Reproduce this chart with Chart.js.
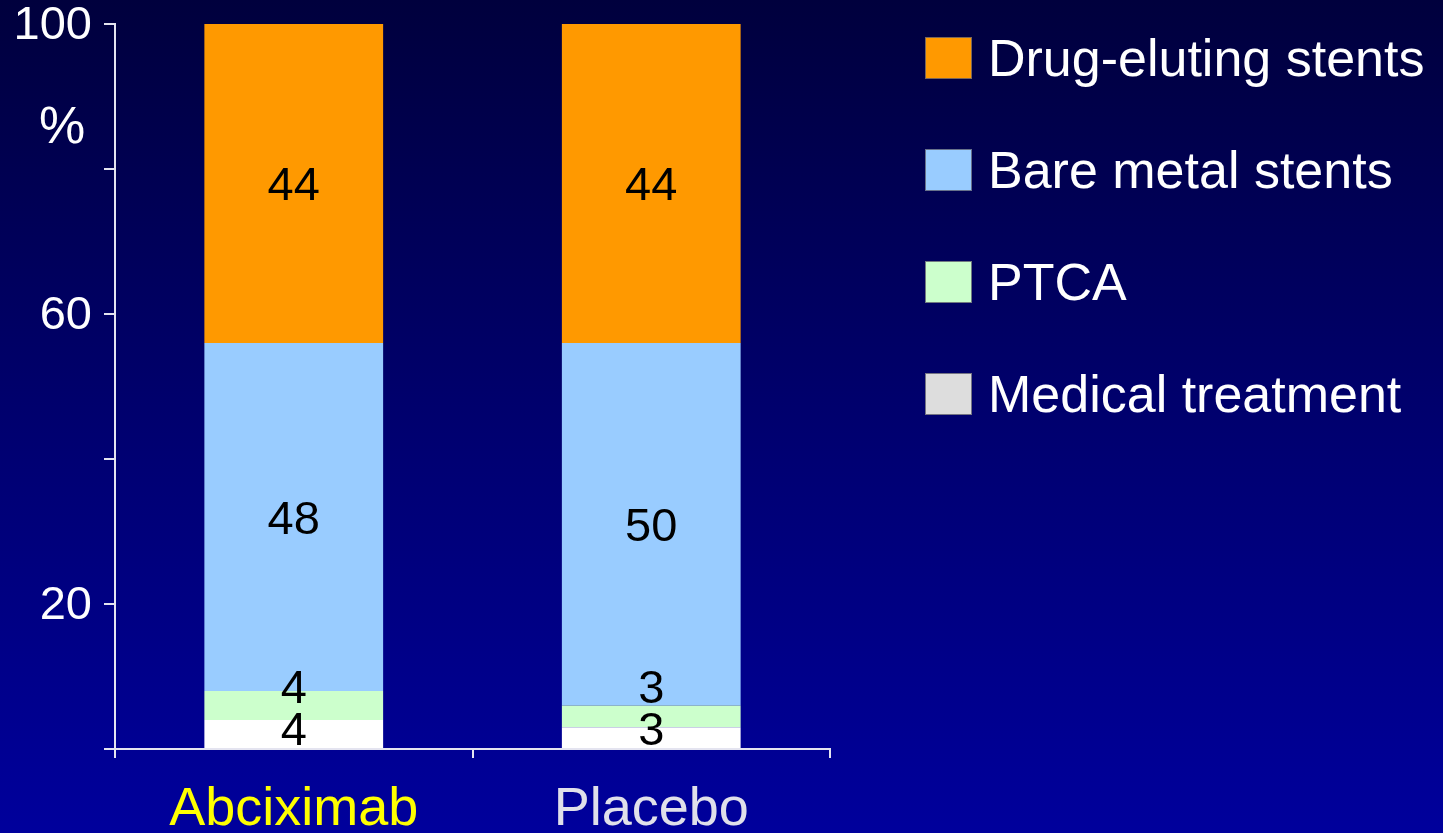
<!DOCTYPE html>
<html>
<head>
<meta charset="utf-8">
<script src="https://cdn.jsdelivr.net/npm/chart.js@4/dist/chart.umd.min.js"></script>
<style>
  html, body { margin: 0; padding: 0; }
  body {
    width: 1443px; height: 833px; overflow: hidden;
    background: linear-gradient(to bottom, #00003d 0%, #00006e 50%, #00009c 100%);
  }
  #wrap { position: relative; width: 1443px; height: 833px; }
</style>
</head>
<body>
<div id="wrap"><canvas id="myChart"></canvas></div>
<script>
const FONT = "'Liberation Sans', Arial, sans-serif"

const groups = ['Abciximab', 'Placebo']
const seriesNames = ['Medical treatment', 'PTCA', 'Bare metal stents', 'Drug-eluting stents']
const medical = [4, 3]
const ptca = [4, 3]
const bareMetal = [48, 50]
const drugEluting = [44, 44]
const yTickValues = [20, 60, 100]

const barColors = ['#ffffff', '#ccffcc', '#99ccff', '#ff9900']
const legendColors = ['#dddddd', '#ccffcc', '#99ccff', '#ff9900']
const groupColors = ['#ffff00', '#e0e0ea']
const axisColor = '#e4e4f0'

// numbers inside the bar segments, small ones pushed up so they don't collide
const segmentLabels = {
    id: 'segmentLabels',
    afterDatasetsDraw(chart) {
        const ctx = chart.ctx
        const area = chart.chartArea
        ctx.save()
        ctx.font = `47px ${FONT}`
        ctx.fillStyle = '#000'
        ctx.textAlign = 'center'
        ctx.textBaseline = 'middle'
        groups.forEach((g, i) => {
            let prevY = Infinity
            chart.data.datasets.forEach((ds, d) => {
                const bar = chart.getDatasetMeta(d).data[i]
                let y = (bar.y + bar.base) / 2 + 4
                y = Math.min(y, area.bottom - 17, prevY - 42)
                ctx.fillText(String(ds.data[i]), bar.x, y)
                prevY = y
            })
        })
        ctx.restore()
    }
}

// legend on the right, top series first, plus the "%" unit label
const sideLegend = {
    id: 'sideLegend',
    afterDraw(chart) {
        const ctx = chart.ctx
        ctx.save()
        ctx.textBaseline = 'middle'
        ctx.textAlign = 'left'
        ctx.font = `52px ${FONT}`
        const items = chart.data.datasets.map((ds, d) => ({ text: ds.label, color: legendColors[d] })).reverse()
        items.forEach((item, k) => {
            const top = 37 + k * 112
            ctx.fillStyle = item.color
            ctx.fillRect(925, top, 47, 42)
            ctx.strokeStyle = 'rgba(90,90,110,0.8)'
            ctx.lineWidth = 1
            ctx.strokeRect(925.5, top + 0.5, 46, 41)
            ctx.fillStyle = '#ffffff'
            ctx.fillText(item.text, 988, top + 25)
        })
        ctx.font = `52px ${FONT}`
        ctx.textAlign = 'center'
        ctx.fillText('%', 62, 129)
        ctx.restore()
    }
}

function displayChart() {
    const ctx = document.getElementById('myChart')
    const values = [medical, ptca, bareMetal, drugEluting]
    new Chart(ctx, {
        type: 'bar',
        data: {
            labels: groups,
            datasets: seriesNames.map((name, d) => ({
                label: name,
                data: values[d],
                backgroundColor: barColors[d],
                borderWidth: 0,
                categoryPercentage: 0.5,
                barPercentage: 1
            }))
        },
        options: {
            responsive: true,
            maintainAspectRatio: false,
            animation: false,
            layout: { padding: { top: 24, right: 613, left: 0, bottom: 0 } },
            scales: {
                x: {
                    stacked: true,
                    grid: { drawOnChartArea: false, offset: true, tickLength: 9, color: axisColor, lineWidth: 2 },
                    border: { color: axisColor, width: 2 },
                    ticks: {
                        color: c => groupColors[c.index],
                        font: { family: FONT, size: 54, lineHeight: 1 },
                        padding: 25,
                        maxRotation: 0
                    },
                    afterFit: s => {
                        s.height = 84
                        s.paddingLeft = 0
                        s.paddingRight = 0
                    }
                },
                y: {
                    stacked: true,
                    min: 0,
                    max: 100,
                    grid: { drawOnChartArea: false, tickLength: 11, color: axisColor, lineWidth: 2 },
                    border: { color: axisColor, width: 2 },
                    ticks: {
                        stepSize: 20,
                        color: '#ffffff',
                        font: { family: FONT, size: 47, lineHeight: 1 },
                        padding: 12,
                        labelOffset: 2,
                        callback: v => yTickValues.includes(v) ? String(v) : ''
                    },
                    afterFit: s => {
                        s.width = 115
                        s.paddingTop = 0
                        s.paddingBottom = 0
                    }
                }
            },
            plugins: {
                legend: { display: false },
                tooltip: { enabled: false }
            }
        },
        plugins: [segmentLabels, sideLegend]
    })
}

displayChart()
</script>
</body>
</html>
